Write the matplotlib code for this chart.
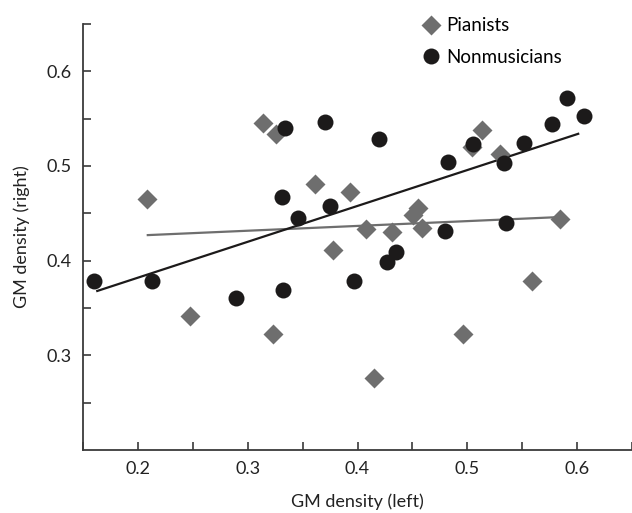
import matplotlib
matplotlib.use("Agg")
import matplotlib.pyplot as plt
from matplotlib.lines import Line2D

plt.rcParams['font.family'] = ['Lato', 'DejaVu Sans']

# Pianists (gray diamonds)
pian_x = [0.208, 0.247, 0.314, 0.323, 0.326, 0.361, 0.378, 0.393, 0.408, 0.415,
          0.431, 0.451, 0.455, 0.459, 0.496, 0.504, 0.513, 0.530, 0.559, 0.584]
pian_y = [0.465, 0.342, 0.545, 0.323, 0.534, 0.481, 0.411, 0.473, 0.433, 0.276,
          0.430, 0.448, 0.456, 0.435, 0.323, 0.520, 0.538, 0.513, 0.379, 0.444]

# Nonmusicians (black circles)
nonm_x = [0.160, 0.213, 0.289, 0.331, 0.332, 0.334, 0.346, 0.370, 0.375, 0.397, 0.420,
          0.427, 0.435, 0.480, 0.482, 0.505, 0.533, 0.535, 0.552, 0.577, 0.591, 0.606]
nonm_y = [0.379, 0.378, 0.361, 0.467, 0.369, 0.540, 0.445, 0.547, 0.458, 0.378, 0.529,
          0.399, 0.409, 0.431, 0.504, 0.523, 0.503, 0.440, 0.524, 0.544, 0.572, 0.553]

# regression lines (end points)
fit_pian_x = [0.209, 0.583]
fit_pian_y = [0.427, 0.446]
fit_nonm_x = [0.163, 0.601]
fit_nonm_y = [0.368, 0.534]

gray = '#6e6e6e'
dark = '#1c1a1a'

fig = plt.figure(figsize=(6.32, 5.13), dpi=100)
ax = fig.add_axes([83/632, 1 - 450/513, 549/632, 426/513])

ax.plot(fit_pian_x, fit_pian_y, color=gray, lw=1.6, zorder=2)
ax.plot(fit_nonm_x, fit_nonm_y, color=dark, lw=1.6, zorder=2)
ax.plot(pian_x, pian_y, 'D', color=gray, ms=10, mec='none', zorder=3)
ax.plot(nonm_x, nonm_y, 'o', color=dark, ms=11.5, mec='none', zorder=4)

ax.set_xlim(0.15, 0.65)
ax.set_ylim(0.2, 0.65)
ax.set_xticks([0.2, 0.3, 0.4, 0.5, 0.6])
ax.set_xticks([0.15, 0.25, 0.35, 0.45, 0.55, 0.65], minor=True)
ax.set_yticks([0.3, 0.4, 0.5, 0.6])
ax.set_yticks([0.25, 0.35, 0.45, 0.55, 0.65], minor=True)
ax.tick_params(which='both', direction='in', length=6, width=1.2, color='#3a3a3a',
               labelsize=13, labelcolor='#222222', pad=8)

for s in ['top', 'right']:
    ax.spines[s].set_visible(False)
for s in ['left', 'bottom']:
    ax.spines[s].set_color('#3a3a3a')
    ax.spines[s].set_linewidth(1.3)

ax.set_xlabel('GM density (left)', fontsize=13, color='#222222', labelpad=12)
ax.set_ylabel('GM density (right)', fontsize=13, color='#222222', labelpad=12)

handles = [Line2D([], [], marker='D', ls='none', color=gray, ms=10, mec='none'),
           Line2D([], [], marker='o', ls='none', color=dark, ms=11.5, mec='none')]
ax.legend(handles, ['Pianists', 'Nonmusicians'], loc='upper left',
          bbox_to_anchor=(0.603, 1.033), frameon=False, fontsize=13.5,
          handletextpad=0.3, labelspacing=0.75, handlelength=1.0, borderaxespad=0)

fig.savefig('out.png', dpi=100)
